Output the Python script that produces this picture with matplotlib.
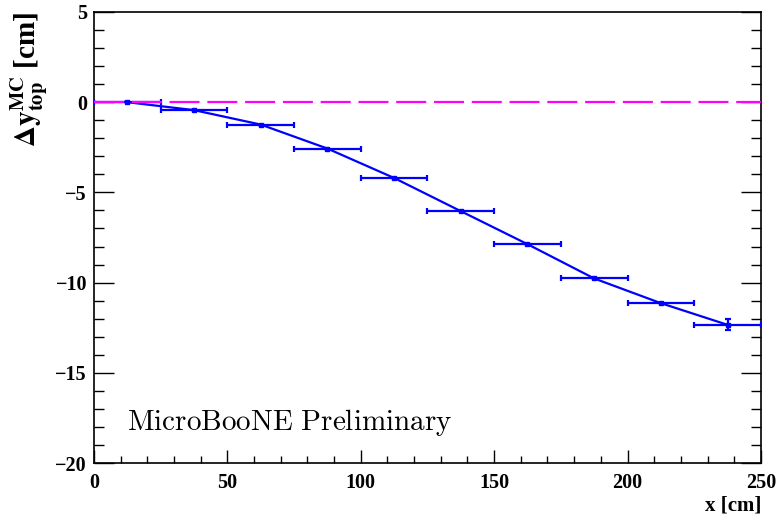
import numpy as np
import matplotlib.pyplot as plt
from matplotlib.ticker import MultipleLocator

# bin centres and widths (cm)
x_centers = [12.5, 37.5, 62.5, 87.5, 112.5, 137.5, 162.5, 187.5, 212.5, 237.5]
x_half_width = [12.5] * 10
dy_top = [0.0, -0.44, -1.24, -2.57, -4.2, -6.04, -7.87, -9.77, -11.14, -12.34]
dy_err = [0.0, 0.0, 0.0, 0.0, 0.0, 0.0, 0.0, 0.0, 0.0, 0.3]

x_range = [0, 250]
ref_level = [0, 0]

plt.rcParams['font.family'] = ['Liberation Serif', 'DejaVu Serif']
plt.rcParams['font.weight'] = 'bold'

fig = plt.figure(figsize=(7.78, 5.21), dpi=100)
ax = fig.add_axes([0.1208, 0.1113, 0.978 - 0.1208, 0.977 - 0.1113])

blue = '#0000ff'
ax.plot(x_centers, dy_top, color=blue, lw=1.6, zorder=3)
ax.errorbar(x_centers, dy_top, xerr=x_half_width, yerr=dy_err, fmt='s', ms=2.5,
            color=blue, ecolor=blue, elinewidth=1.6, capsize=2.5, capthick=1.6,
            zorder=3)
ax.plot(x_range, ref_level, color='#ff00ff', lw=1.6, dashes=(13.5, 3.5), zorder=4)

ax.set_xlim(0, 250)
ax.set_ylim(-20, 5)

ax.xaxis.set_major_locator(MultipleLocator(50))
ax.xaxis.set_minor_locator(MultipleLocator(10))
ax.yaxis.set_major_locator(MultipleLocator(5))
ax.yaxis.set_minor_locator(MultipleLocator(1))

ax.tick_params(axis='x', which='both', direction='in', top=False, bottom=True,
               labelsize=14.5, pad=7, width=1)
ax.tick_params(axis='x', which='major', length=9.5)
ax.tick_params(axis='x', which='minor', length=5)
ax.tick_params(axis='y', which='both', direction='in', left=True, right=True,
               labelsize=14.5, pad=5, width=1)
ax.tick_params(axis='y', which='major', length=14.5)
ax.tick_params(axis='y', which='minor', length=7.2)

for lab in ax.get_xticklabels() + ax.get_yticklabels():
    lab.set_fontweight('bold')

for sp in ax.spines.values():
    sp.set_linewidth(1.2)

ax.set_xlabel('x [cm]', loc='right', fontsize=15, fontweight='bold', labelpad=2)
ax.set_ylabel(r'$\mathbf{\Delta y^{MC}_{top}}$ [cm]', loc='top', fontsize=21,
              fontweight='bold', math_fontfamily='stix', labelpad=4)

ax.text(0.05, 0.073, r'$\mathrm{MicroBooNE\ Preliminary}$', transform=ax.transAxes,
        fontsize=21, math_fontfamily='cm', fontweight='normal')

fig.savefig('out.png', dpi=100)
